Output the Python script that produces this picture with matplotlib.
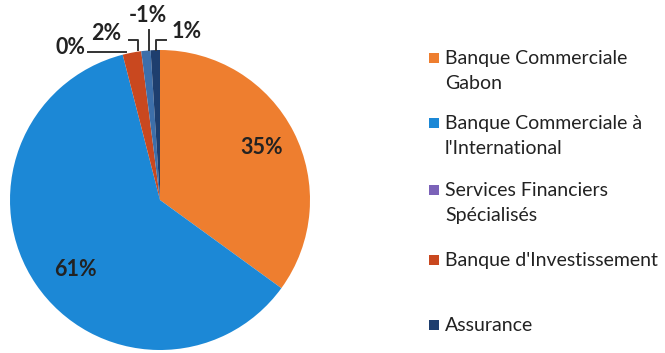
import matplotlib.pyplot as plt
from matplotlib.patches import Rectangle

# Répartition par métier (%)
categories = ["Banque Commerciale\nGabon", "Banque Commerciale à\nl'International",
              "Services Financiers\nSpécialisés", "Banque d'Investissement", "", "Assurance"]
values = [35, 61, 0, 2, -1, 1]
colors = ["#ee7e2f", "#1c88d6", "#7b62b8", "#c9481f", "#3d6faa", "#1e3e6e"]

W, H = 665, 353


def px(x, y):
    # pixel position (from top-left) -> pie data coordinates
    return (x - 160) / 150.0, (200 - y) / 150.0


fig = plt.figure(figsize=(W / 100, H / 100), dpi=100)
ax = fig.add_axes([10 / W, 3 / H, 300 / W, 300 / H])

sizes = [abs(v) for v in values]
wedges, _ = ax.pie(sizes, colors=colors, startangle=90, counterclock=False,
                   radius=1, wedgeprops=dict(linewidth=0))
ax.set_xlim(-1, 1)
ax.set_ylim(-1, 1)

# label positions (pixels)
label_pos = [(262, 148), (75, 270), (70, 47), (106, 33), (148, 16), (187, 31)]
for v, (x, y) in zip(values, label_pos):
    ax.text(*px(x, y), "{0}%".format(v), ha="center", va="center",
            fontsize=15.5, fontweight="bold", family="Lato", color="#222222",
            clip_on=False)

# leader lines for the small slices
leaders = [
    [(88, 52), (126, 52)],
    [(129, 40), (138, 40), (138, 50)],
    [(149, 30), (149, 50)],
    [(166, 40), (156, 40), (156, 50)],
]
for pts in leaders:
    xs, ys = zip(*[px(x, y) for x, y in pts])
    ax.plot(xs, ys, color="#333333", lw=1.4, clip_on=False)

# legend
legend_y = [58, 123, 190, 260, None, 325]
for name, c, y in zip(categories, colors, legend_y):
    if y is None:
        continue
    fig.patches.append(Rectangle((429 / W, 1 - (y + 5) / H), 10 / W, 10 / H,
                                 facecolor=c, transform=fig.transFigure))
    fig.text(445 / W, 1 - (y - 8) / H, name, ha="left", va="top",
             fontsize=14, family="Lato", color="#222222", linespacing=1.6)

fig.savefig("out.png", dpi=100)
